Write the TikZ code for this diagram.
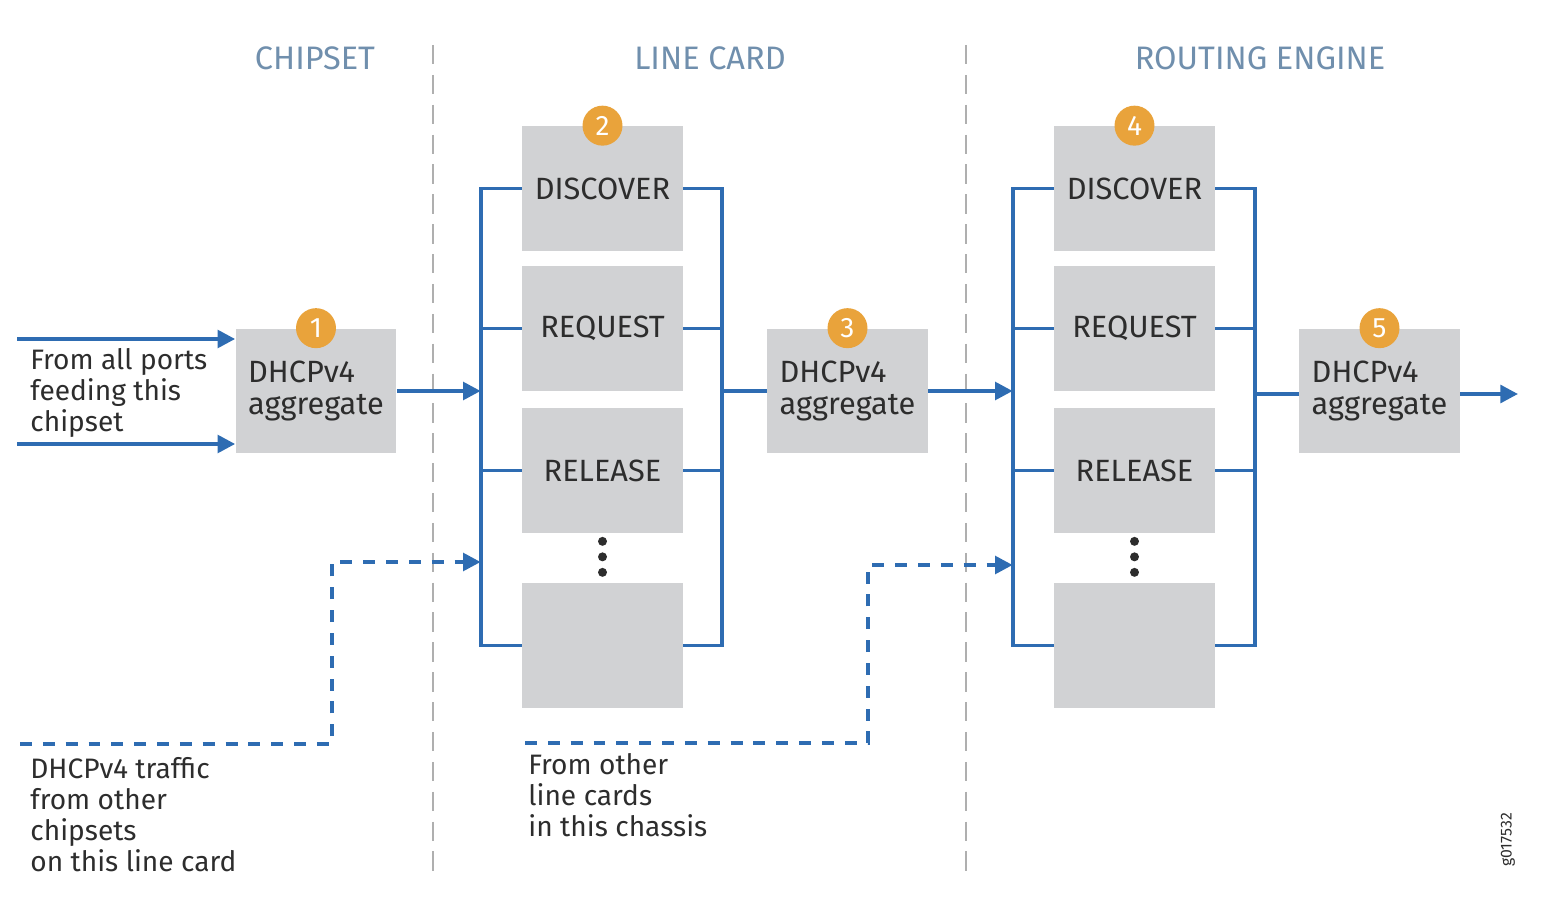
\documentclass[tikz,border=0pt]{standalone}
\usepackage{fontspec}
\setmainfont{Fira Sans}
\usetikzlibrary{arrows.meta,positioning}
\definecolor{flowblue}{RGB}{46,108,178}
\definecolor{boxgray}{RGB}{209,210,212}
\definecolor{badgeorange}{RGB}{233,163,59}
\definecolor{headblue}{RGB}{112,143,173}
\definecolor{sepgray}{RGB}{175,175,175}
\definecolor{textgray}{RGB}{45,45,45}

\tikzset{
    msgbox/.style={fill=boxgray, minimum width=3.22cm, minimum height=2.5cm,
        inner sep=0pt, text=textgray, align=left, font=\fontsize{17.5}{18.2}\selectfont},
    badge/.style={circle, fill=badgeorange, minimum size=0.8cm, inner sep=0pt,
        text=white, font=\fontsize{16}{16}\selectfont},
    header/.style={text=headblue, font=\fontsize{18.5}{18}\selectfont},
    note/.style={anchor=north west, inner sep=0pt, align=left, text=textgray,
        font=\fontsize{16}{17.7}\selectfont},
    flow/.style={flowblue, line width=2.2pt},
    flowarrow/.style={flow, -{Triangle[length=10pt,width=10pt]}},
    dashflow/.style={flowarrow, dash pattern=on 6.8pt off 6.2pt},
    sepline/.style={sepgray, line width=1.5pt, dash pattern=on 11pt off 6pt},
}

\begin{document}
\begin{tikzpicture}[x=0.02cm,y=-0.02cm]
    \useasboundingbox (0,0) rectangle (1556,902);

    % column headers and separators
    \node[header] (hchip) at (315,58) {CHIPSET};
    \node[header] (hcard) at (710,58) {LINE CARD};
    \node[header] (hre) at (1260,58) {ROUTING ENGINE};
    \draw[sepline] (433,45) -- (433,875);
    \draw[sepline] (966,45) -- (966,875);

    % chipset
    \node[msgbox] (agg1) at (316,391) {DHCPv4\\aggregate};
    \node[badge] (b1) at (agg1.north) {1};
    \coordinate (portsA) at (17,339);
    \coordinate (portsB) at (17,444);
    \draw[flowarrow] (portsA) -- (portsA -| agg1.west);
    \draw[flowarrow] (portsB) -- (portsB -| agg1.west);
    \node[note] (nports) at (30,348) {From all ports\\feeding this\\chipset};

    % line card
    \node[msgbox] (disc2) at (602.5,188.5) {DISCOVER};
    \node[msgbox] (req2) at (602.5,328.5) {REQUEST};
    \node[msgbox] (rel2) at (602.5,470.5) {RELEASE};
    \node[msgbox] (more2) at (602.5,645.5) {};
    \node[badge] (b2) at (disc2.north) {2};
    \foreach \dy in {8,23.5,39}
        \fill[textgray] (rel2.south) ++(0,\dy) circle (0.09cm);
    \draw[flow] (disc2.west) -- ++(-41,0) coordinate (lb2) |- (more2.west);
    \draw[flow] (req2.west) -- (req2.west -| lb2);
    \draw[flow] (rel2.west) -- (rel2.west -| lb2);
    \draw[flow] (disc2.east) -- ++(39,0) coordinate (rb2) |- (more2.east);
    \draw[flow] (req2.east) -- (req2.east -| rb2);
    \draw[flow] (rel2.east) -- (rel2.east -| rb2);
    \draw[flowarrow] (agg1.east) -- (agg1.east -| lb2);

    \coordinate (chipsets) at (20,744);
    \coordinate (chipbend) at (332,562);
    \draw[dashflow] (chipsets) -| (chipbend) -- (chipbend -| lb2);
    \node[note] (nchips) at (30,757) {DHCPv4 traffic\\from other\\chipsets\\on this line card};

    \node[msgbox] (agg3) at (847.5,391) {DHCPv4\\aggregate};
    \node[badge] (b3) at (agg3.north) {3};
    \draw[flow] (agg3.west) -- (agg3.west -| rb2);

    % routing engine
    \node[msgbox] (disc4) at (1134.5,188.5) {DISCOVER};
    \node[msgbox] (req4) at (1134.5,328.5) {REQUEST};
    \node[msgbox] (rel4) at (1134.5,470.5) {RELEASE};
    \node[msgbox] (more4) at (1134.5,645.5) {};
    \node[badge] (b4) at (disc4.north) {4};
    \foreach \dy in {8,23.5,39}
        \fill[textgray] (rel4.south) ++(0,\dy) circle (0.09cm);
    \draw[flow] (disc4.west) -- ++(-41,0) coordinate (lb4) |- (more4.west);
    \draw[flow] (req4.west) -- (req4.west -| lb4);
    \draw[flow] (rel4.west) -- (rel4.west -| lb4);
    \draw[flow] (disc4.east) -- ++(40,0) coordinate (rb4) |- (more4.east);
    \draw[flow] (req4.east) -- (req4.east -| rb4);
    \draw[flow] (rel4.east) -- (rel4.east -| rb4);
    \draw[flowarrow] (agg3.east) -- (agg3.east -| lb4);

    \coordinate (linecards) at (525,743);
    \coordinate (cardbend) at (868,565);
    \draw[dashflow] (linecards) -| (cardbend) -- (cardbend -| lb4);
    \node[note] (ncards) at (528,753) {From other\\line cards\\in this chassis};

    \node[msgbox] (agg5) at (1379.5,391) {DHCPv4\\aggregate};
    \node[badge] (b5) at (agg5.north) {5};
    \coordinate (out) at (1518,394);
    \draw[flow] (agg5.west |- out) -- (out -| rb4);
    \draw[flowarrow] (agg5.east |- out) -- (out);

    \node[rotate=90, text=textgray, font=\fontsize{9}{9}\selectfont] (fig) at (1508,840) {g017532};
\end{tikzpicture}
\end{document}
